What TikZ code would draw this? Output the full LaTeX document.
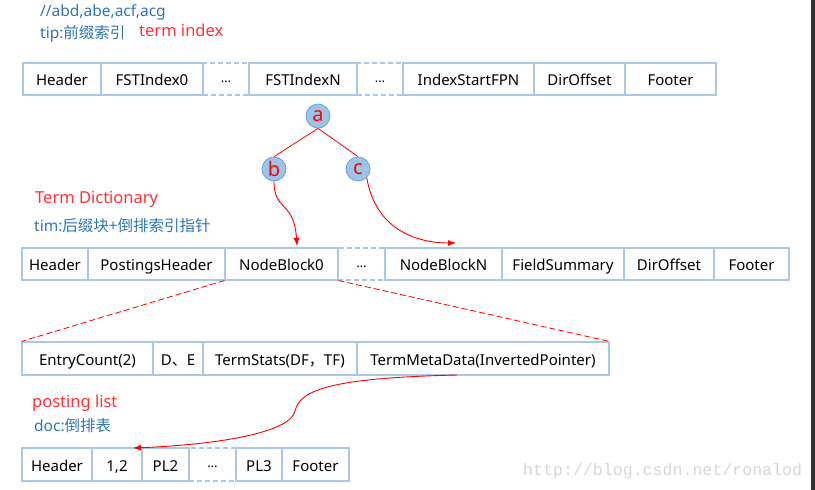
\documentclass[tikz,border=0pt]{standalone}
\usepackage{fontspec}
\setmainfont{Noto Sans}
\setmonofont{Liberation Mono}
\newfontfamily\cjk{Noto Sans CJK SC}
\usepackage{tikz}
\usetikzlibrary{arrows.meta,calc}
\definecolor{cellblue}{HTML}{A9C8E8}
\definecolor{knotfill}{HTML}{9DC3E6}
\definecolor{knotedge}{HTML}{6FA3D8}
\definecolor{notblue}{HTML}{2E75B6}
\definecolor{labred}{HTML}{FF3333}
\definecolor{markgray}{HTML}{D6D6D6}
\newcommand{\gapdots}{\raisebox{3.5pt}{\dots}}
\tikzset{
  cell/.style={draw=cellblue,line width=1.1pt,minimum height=32pt,inner sep=0pt,text height=13pt,text depth=0pt,font=\fontsize{15}{18}\selectfont},
  dotcell/.style={cell,dash pattern=on 5pt off 3pt,font=\fontsize{13}{18}\selectfont},
  knot/.style={circle,draw=knotedge,fill=knotfill,line width=0.8pt,minimum size=24pt,inner sep=0pt,text=red,font=\fontsize{20}{20}\selectfont},
  bluenote/.style={anchor=west,inner sep=0pt,text=notblue,font=\fontsize{15.5}{18}\selectfont},
  rednote/.style={anchor=west,inner sep=0pt,text=labred,font=\fontsize{16.5}{18}\selectfont},
  link/.style={red,line width=0.9pt,-{Latex[length=8pt,width=6pt]}}
}
\begin{document}
\begin{tikzpicture}[x=1pt,y=-1pt]
        \useasboundingbox (0,0) rectangle (815,490);
        % term index
        \node[bluenote] (abc) at (40,12) {//abd,abe,acf,acg};
        \node[bluenote] (tip) at (40,34) {tip:{\cjk 前缀索引}};
        \node[rednote] (tiplab) at (139,30) {term index};
        \node[cell,minimum width=78pt] (h1) at (62,79) {Header};
        \node[cell,minimum width=102pt] (fst0) at (152,79) {FSTIndex0};
        \node[dotcell,minimum width=46pt] (d1) at (226,79) {\gapdots};
        \node[cell,minimum width=108pt] (fstn) at (303,79) {FSTIndexN};
        \node[dotcell,minimum width=46pt] (d2) at (380,79) {\gapdots};
        \node[cell,minimum width=131pt] (isf) at (468.5,79) {IndexStartFPN};
        \node[cell,minimum width=91pt] (dir1) at (579.5,79) {DirOffset};
        \node[cell,minimum width=91pt] (f1) at (670.5,79) {Footer};
        % FST
        \node[knot] (a) at (318,116) {a};
        \node[knot] (b) at (274,169) {b};
        \node[knot] (c) at (358,169) {c};
        \draw[red,line width=0.8pt] (a.south)--(b.north);
        \draw[red,line width=0.8pt] (a.south)--(c.north);
        % term dictionary
        \node[rednote] (timlab) at (35,199) {Term Dictionary};
        \node[bluenote] (tim) at (34,226) {tim:{\cjk 后缀块+倒排索引指针}};
        \node[cell,minimum width=66pt] (h2) at (55,264) {Header};
        \node[cell,minimum width=137pt] (ph) at (156.5,264) {PostingsHeader};
        \node[cell,minimum width=113pt] (nb0) at (281.5,264) {NodeBlock0};
        \node[dotcell,minimum width=47pt] (d3) at (361.5,264) {\gapdots};
        \node[cell,minimum width=117pt] (nbn) at (443.5,264) {NodeBlockN};
        \node[cell,minimum width=122pt] (fs) at (563,264) {FieldSummary};
        \node[cell,minimum width=90pt] (dir2) at (669,264) {DirOffset};
        \node[cell,minimum width=75pt] (f2) at (751.5,264) {Footer};
        \coordinate (tob) at (297,246);
        \coordinate (toc) at (456,243);
        \draw[link] (b.south) .. controls (274,212) and (294,200) .. (tob);
        \draw[link] (c.south east) .. controls (376,232) and (420,243) .. (toc);
        % node block
        \node[cell,minimum width=131pt,minimum height=33pt] (ec) at (87.5,358.5) {EntryCount(2)};
        \node[cell,minimum width=50pt,minimum height=33pt] (de) at (178,358.5) {D{\cjk 、}E};
        \node[cell,minimum width=154pt,minimum height=33pt] (ts) at (280,358.5) {TermStats(DF{\cjk ，}TF)};
        \node[cell,minimum width=252pt,minimum height=33pt] (tmd) at (483,358.5) {TermMetaData(InvertedPointer)};
        \draw[red,line width=0.8pt,dash pattern=on 6pt off 3pt] (nb0.south west)--(ec.north west);
        \draw[red,line width=0.8pt,dash pattern=on 6pt off 3pt] (nb0.south east)--(tmd.north east);
        % posting list
        \node[rednote] (doclab) at (32,403) {posting list};
        \node[bluenote] (doc) at (34,426) {doc:{\cjk 倒排表}};
        \node[cell,minimum width=70pt,minimum height=33pt] (h4) at (57,464.5) {Header};
        \node[cell,minimum width=50pt,minimum height=33pt] (pl1) at (117,464.5) {1,2};
        \node[cell,minimum width=47pt,minimum height=33pt] (pl2) at (165.5,464.5) {PL2};
        \node[dotcell,minimum width=47pt,minimum height=33pt] (d4) at (212.5,464.5) {\gapdots};
        \node[cell,minimum width=46pt,minimum height=33pt] (pl3) at (259,464.5) {PL3};
        \node[cell,minimum width=67pt,minimum height=33pt] (f4) at (315.5,464.5) {Footer};
        \coordinate (tmdout) at (457,375);
        \coordinate (topl) at (133,448);
        \draw[link] (tmdout) .. controls (330,378) and (300,390) .. (295,411) .. controls (290,434) and (210,445) .. (topl);
        % watermark and edge
        \node[anchor=west,inner sep=0pt,text=markgray,font=\ttfamily\fontsize{16.6}{18}\selectfont] (mark) at (523,471) {http://blog.csdn.net/ronalod};
        \fill[black!80] (811,0) rectangle (815,490);
      \end{tikzpicture}
\end{document}
